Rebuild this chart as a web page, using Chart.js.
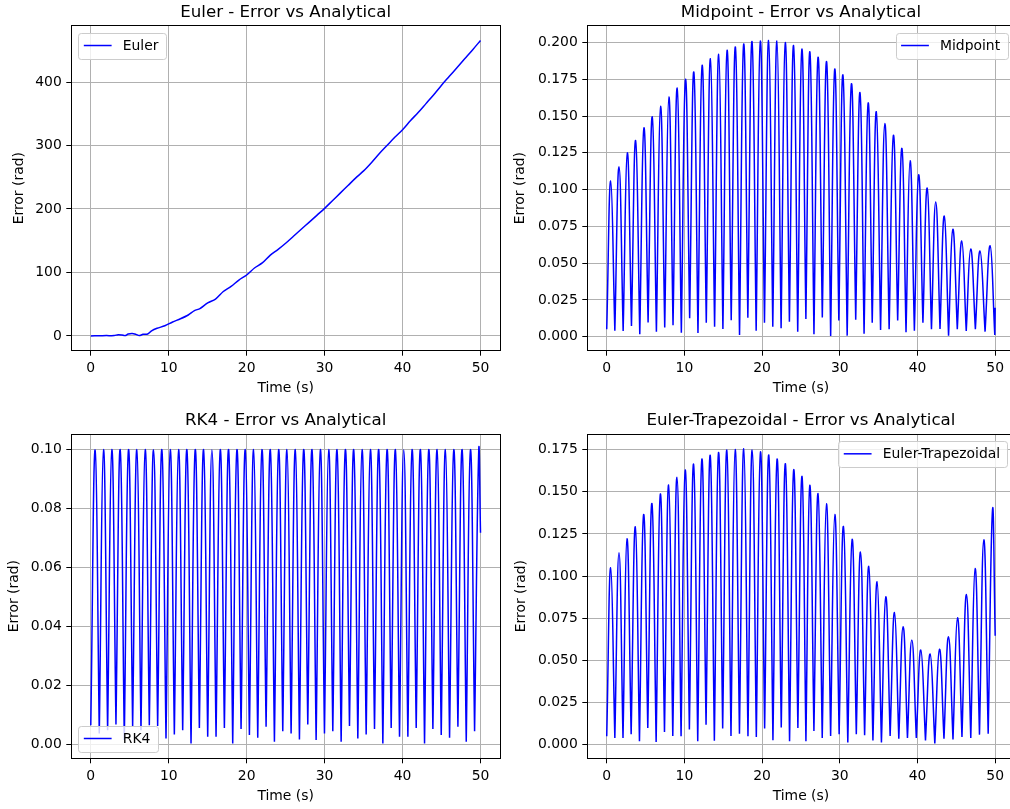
<!DOCTYPE html>
<html>
<head>
<meta charset="utf-8">
<title>Error vs Analytical</title>
<script src="https://cdn.jsdelivr.net/npm/chart.js@4.4.1/dist/chart.umd.min.js"></script>
<style>
  html, body { margin: 0; padding: 0; background: #fff; overflow: hidden; }
  #fig { position: relative; width: 1010px; height: 809px; overflow: hidden; background: #fff; }
  #fig canvas { position: absolute; }
</style>
</head>
<body>
<div id="fig"></div>
<script>
// tick labels
const timeTicks = [0, 10, 20, 30, 40, 50];
const eulerTicks = [0, 100, 200, 300, 400];
const midpointTicks = [0, 0.025, 0.05, 0.075, 0.1, 0.125, 0.15, 0.175, 0.2];
const rk4Ticks = [0, 0.02, 0.04, 0.06, 0.08, 0.1];
const trapTicks = [0, 0.025, 0.05, 0.075, 0.1, 0.125, 0.15, 0.175];

// Euler: smooth growing error
const eulerTime = [0, 1, 2, 3, 3.5, 4, 4.4, 4.8, 5.3, 5.8, 6.2, 6.7, 7.3, 7.8, 8.5, 9.5, 10.5, 11.5, 12.5, 13.3,
  14, 15, 16, 17, 18, 19, 20, 21, 22, 23, 24, 25, 26, 27, 28, 29, 30, 31, 32, 33,
  34, 35, 36, 37, 38, 39, 40, 41, 42, 43, 44, 45, 46, 47, 48, 49, 50];
const eulerError = [0, 0.3, 0.5, 0.5, 2, 1.5, 0.5, 3, 4, 2.5, 0.5, 2.5, 3, 8, 12, 16, 22, 27, 33, 40,
  43, 52, 58, 70, 78, 88, 96, 107, 115, 127, 136, 146, 157, 168, 179, 190, 201, 213, 225, 237,
  249, 260, 273, 287, 300, 313, 325, 339, 352, 366, 380, 395, 409, 423, 437, 451, 465.5];

// Midpoint: peaks and troughs of the oscillating error
const midpointPeakTime = [0.51, 1.58, 2.65, 3.72, 4.79, 5.86, 6.93, 8.0, 9.07, 10.14, 11.21, 12.28, 13.35, 14.42, 15.49,
  16.56, 17.63, 18.7, 19.77, 20.84, 21.91, 22.98, 24.05, 25.12, 26.15, 27.2, 28.3, 29.35, 30.4, 31.5,
  32.6, 33.65, 34.7, 35.8, 36.9, 38.0, 39.05, 40.15, 41.25, 42.35, 43.45, 44.55, 45.7, 46.85, 48.05, 49.35];
const midpointPeak = [0.1058, 0.1155, 0.125, 0.1334, 0.142, 0.1495, 0.1566, 0.163, 0.169, 0.175,
  0.180, 0.1846, 0.189, 0.192, 0.1948, 0.197, 0.199, 0.2007, 0.201, 0.2014,
  0.201, 0.200, 0.198, 0.1955, 0.1937, 0.190, 0.187, 0.182, 0.178, 0.172,
  0.166, 0.159, 0.153, 0.145, 0.137, 0.128, 0.1196, 0.110, 0.101, 0.0915,
  0.082, 0.073, 0.065, 0.0596, 0.0582, 0.0618];
const midpointTroughTime = [0, 1.045, 2.115, 3.185, 4.255, 5.325, 6.395, 7.465, 8.535, 9.605, 10.675, 11.745,
  12.815, 13.885, 14.955, 16.025, 17.095, 18.165, 19.235, 20.305, 21.375, 22.445, 23.515, 24.585,
  25.635, 26.675, 27.75, 28.825, 29.875, 30.95, 32.05, 33.125, 34.175, 35.25, 36.35, 37.45,
  38.525, 39.6, 40.7, 41.8, 42.9, 44.0, 45.125, 46.275, 47.45, 48.7, 49.95, 50];
const midpointTrough = [0.005, 0.0041, 0.0039, 0.0072, 0.0016, 0.0097, 0.0034, 0.0063, 0.0077, 0.0027, 0.0125, 0.0025,
  0.0095, 0.0068, 0.0052, 0.0111, 0.0011, 0.0129, 0.0041, 0.0095, 0.0068, 0.0057, 0.0102, 0.0034,
  0.012, 0.0016, 0.013, 0.0005, 0.011, 0.0007, 0.0115, 0.002, 0.0095, 0.0045, 0.005, 0.011,
  0.003, 0.004, 0.0095, 0.005, 0.0052, 0.0007, 0.005, 0.0038, 0.005, 0.0034, 0.0011, 0.0197];

// RK4
const rk4PeakTime = [0.56, 1.63, 2.70, 3.77, 4.84, 5.91, 6.98, 8.05, 9.12, 10.19, 11.26, 12.33, 13.40, 14.47, 15.54,
  16.61, 17.68, 18.75, 19.82, 20.89, 21.96, 23.03, 24.10, 25.17, 26.24, 27.31, 28.38, 29.45, 30.52, 31.59,
  32.66, 33.73, 34.80, 35.87, 36.94, 38.01, 39.08, 40.15, 41.22, 42.29, 43.36, 44.43, 45.50, 46.57, 47.64,
  48.71, 49.78];
const rk4Peak = [0.0999, 0.1, 0.1, 0.1, 0.1, 0.1, 0.1, 0.1, 0.1, 0.1, 0.1, 0.1, 0.1, 0.1, 0.1,
  0.1, 0.1, 0.1, 0.1, 0.1, 0.1, 0.1, 0.1, 0.1, 0.1, 0.1, 0.1, 0.1, 0.1, 0.1,
  0.1, 0.1, 0.1, 0.1, 0.1, 0.1, 0.1, 0.1, 0.1, 0.1, 0.1, 0.1, 0.1, 0.1, 0.1,
  0.1, 0.1003];
const rk4TroughTime = [0, 1.09, 2.16, 3.23, 4.30, 5.37, 6.44, 7.51, 8.58, 9.65, 10.72, 11.79, 12.86, 13.93, 15.00,
  16.07, 17.14, 18.21, 19.28, 20.35, 21.42, 22.49, 23.56, 24.63, 25.70, 26.77, 27.84, 28.91, 29.98, 31.05,
  32.12, 33.19, 34.26, 35.33, 36.40, 37.47, 38.54, 39.61, 40.68, 41.75, 42.82, 43.89, 44.96, 46.03, 47.10,
  48.17, 49.24, 50];
const rk4Trough = [0.0065, 0.0037, 0.0048, 0.0068, 0.0015, 0.0063, 0.0048, 0.0065, 0.0063, 0.002, 0.0034,
  0.0048, 0.0003, 0.0056, 0.0026, 0.0026, 0.0056, 0.0003, 0.0052, 0.0032, 0.0023,
  0.006, 0.0009, 0.0045, 0.0037, 0.0017, 0.0068, 0.0015, 0.0037, 0.0045, 0.0009,
  0.0063, 0.002, 0.0034, 0.0052, 0.0003, 0.0056, 0.0026, 0.0026, 0.0056, 0.0003,
  0.0052, 0.0032, 0.0023, 0.006, 0.0009, 0.0045, 0.0718];

// Euler-Trapezoidal
const trapPeakTime = [0.51, 1.58, 2.61, 3.68, 4.75, 5.82, 6.9, 7.97, 9.04, 10.1, 11.18, 12.25, 13.32, 14.39, 15.46,
  16.53, 17.64, 18.72, 19.79, 20.86, 21.93, 23.0, 24.07, 25.14, 26.14, 27.2, 28.28, 29.36, 30.47, 31.59,
  32.66, 33.73, 34.8, 35.92, 37.04, 38.15, 39.27, 40.43, 41.63, 42.83, 43.99, 45.15, 46.3, 47.42, 48.54, 49.66];
const trapPeak = [0.105, 0.1139, 0.1222, 0.1293, 0.1366, 0.1431, 0.1488, 0.1541, 0.1587, 0.163,
  0.1665, 0.1695, 0.1717, 0.1734, 0.1748, 0.1752, 0.1756, 0.1748, 0.1738, 0.1719,
  0.1695, 0.1667, 0.1632, 0.1592, 0.1539, 0.149, 0.1429, 0.1366, 0.1295, 0.1218,
  0.1143, 0.1058, 0.0966, 0.0877, 0.0784, 0.070, 0.0621, 0.0562, 0.0538, 0.0566,
  0.064, 0.0753, 0.0891, 0.1045, 0.1216, 0.1395];
const trapTroughTime = [0, 1.045, 2.095, 3.145, 4.215, 5.285, 6.36, 7.435, 8.505, 9.57, 10.64, 11.715, 12.785,
  13.855, 14.925, 15.995, 17.085, 18.18, 19.255, 20.325, 21.395, 22.465, 23.535, 24.605, 25.64, 26.67,
  27.74, 28.82, 29.915, 31.03, 32.125, 33.195, 34.265, 35.36, 36.48, 37.595, 38.71, 39.85, 41.03,
  42.23, 43.41, 44.57, 45.725, 46.86, 47.98, 49.1, 50];
const trapTrough = [0.0049, 0.0039, 0.0039, 0.0061, 0.002, 0.0099, 0.0016, 0.0075, 0.0051, 0.0049, 0.0089, 0.002,
  0.0118, 0.0022, 0.0095, 0.0051, 0.0065, 0.0049, 0.0045, 0.0095, 0.0026, 0.0102, 0.002, 0.0099,
  0.002, 0.0081, 0.0039, 0.0051, 0.0061, 0.0012, 0.0061, 0.0055, 0.0024, 0.0012, 0.0051, 0.0035,
  0.0039, 0.0039, 0.0024, 0.0006, 0.0035, 0.0031, 0.0045, 0.0039, 0.0059, 0.0065, 0.0646];

const FONT = 'DejaVu Sans';
const TICK_SIZE = 13.9;
Chart.defaults.font.family = FONT;
Chart.defaults.font.size = TICK_SIZE;
Chart.defaults.color = '#000';

function toPoints(times, values) {
  return times.map((t, i) => ({ x: t, y: values[i] }));
}
// troughs inside the series are listed twice, so the spline keeps
// a sharp cusp at the bottom and a round top at each peak
function mergePoints(peakT, peakV, troughT, troughV) {
  const last = troughT.length - 1;
  const troughs = [];
  troughT.forEach((t, i) => {
    troughs.push({ x: t, y: troughV[i] });
    if (i > 0 && i < last) troughs.push({ x: t, y: troughV[i] });
  });
  return toPoints(peakT, peakV).concat(troughs).sort((a, b) => a.x - b.x);
}

// spines + matplotlib style legend inside the axes
const axesDecor = {
  id: 'axesDecor',
  afterDatasetsDraw(chart, args, opts) {
    const { ctx, chartArea: a } = chart;
    ctx.save();
    ctx.strokeStyle = '#000';
    ctx.lineWidth = 1;
    const l = Math.round(a.left - 0.5) + 0.5, t = Math.round(a.top - 0.5) + 0.5;
    const r = Math.round(a.right - 0.5) + 0.5, b = Math.round(a.bottom - 0.5) + 0.5;
    ctx.strokeRect(l, t, r - l, b - t);

    const fs = TICK_SIZE;
    const ds = chart.data.datasets[0];
    ctx.font = fs + 'px "' + FONT + '"';
    const tw = ctx.measureText(ds.label).width;
    const pad = 0.4 * fs, handle = 2 * fs, gap = 0.8 * fs, axPad = 0.5 * fs;
    const w = pad + handle + gap + tw + pad + 2;
    const h = 2 * pad + 1.05 * fs;
    let x = a.left + axPad, y = a.top + axPad;
    if (opts.corner === 'upper right') x = a.right - axPad - w;
    if (opts.corner === 'lower left') y = a.bottom - axPad - h;
    ctx.beginPath();
    ctx.roundRect(Math.round(x) + 0.5, Math.round(y) + 0.5, Math.round(w), Math.round(h), 2.8);
    ctx.fillStyle = 'rgba(255,255,255,0.8)';
    ctx.fill();
    ctx.strokeStyle = '#cccccc';
    ctx.stroke();
    const cy = y + h / 2;
    ctx.beginPath();
    ctx.moveTo(x + pad, cy);
    ctx.lineTo(x + pad + handle, cy);
    ctx.strokeStyle = ds.borderColor;
    ctx.lineWidth = ds.borderWidth;
    ctx.stroke();
    ctx.fillStyle = '#000';
    ctx.textBaseline = 'middle';
    ctx.textAlign = 'left';
    ctx.fillText(ds.label, x + pad + handle + gap, cy + 0.5);
    ctx.restore();
  }
};

function makeChart(p) {
  const canvas = document.createElement('canvas');
  canvas.width = p.width;
  canvas.height = p.height;
  canvas.style.left = p.left + 'px';
  canvas.style.top = p.top + 'px';
  canvas.style.width = p.width + 'px';
  canvas.style.height = p.height + 'px';
  document.getElementById('fig').appendChild(canvas);

  const ys = p.points.map(d => d.y);
  const lo = Math.min(...ys), hi = Math.max(...ys), m = 0.05 * (hi - lo);
  const titleBox = p.area.t - p.top;
  const lh = TICK_SIZE * 1.2;

  return new Chart(canvas.getContext('2d'), {
    type: 'line',
    data: {
      datasets: [{
        label: p.label,
        data: p.points,
        borderColor: '#0000ff',
        borderWidth: 1.5,
        pointRadius: 0,
        fill: false,
        tension: p.tension
      }]
    },
    options: {
      responsive: false,
      animation: false,
      events: [],
      layout: { padding: { left: 0, top: 0, bottom: 0, right: p.width - (p.area.r - p.left) } },
      plugins: {
        legend: { display: false },
        tooltip: { enabled: false },
        title: {
          display: true,
          text: p.title,
          fullSize: false,
          color: '#000',
          font: { size: 16.67, weight: 'normal' },
          padding: { top: titleBox - 23.3, bottom: 3.3 }
        },
        axesDecor: { corner: p.corner }
      },
      scales: {
        x: {
          type: 'linear',
          min: -2.5,
          max: 52.5,
          afterBuildTicks: s => { s.ticks = timeTicks.map(v => ({ value: v })); },
          afterFit: s => { s.height = p.top + p.height - p.area.b; },
          border: { display: false },
          grid: { color: '#b0b0b0', lineWidth: 1, tickColor: '#000', tickLength: 5, tickWidth: 1 },
          ticks: { padding: 4.4, autoSkip: false, maxRotation: 0, callback: v => String(v) },
          title: { display: true, text: 'Time (s)', padding: { top: 0, bottom: p.xTitleOff - lh / 2 } }
        },
        y: {
          type: 'linear',
          min: lo - m,
          max: hi + m,
          afterBuildTicks: s => { s.ticks = p.yTicks.map(v => ({ value: v })); },
          afterFit: s => { s.width = p.area.l - p.left; },
          border: { display: false },
          grid: { color: '#b0b0b0', lineWidth: 1, tickColor: '#000', tickLength: 5, tickWidth: 1 },
          ticks: { padding: 4.5, autoSkip: false, callback: v => Number(v).toFixed(p.yDec) },
          title: { display: true, text: 'Error (rad)', padding: { top: p.yTitleOff - lh / 2, bottom: 0 } }
        }
      }
    },
    plugins: [axesDecor]
  });
}

const panels = [
  { label: 'Euler', title: 'Euler - Error vs Analytical', corner: 'upper left', tension: 0.3,
    points: toPoints(eulerTime, eulerError), yTicks: eulerTicks, yDec: 0,
    left: 0, top: 0, width: 505, height: 405, area: { l: 71.3, r: 500, t: 25.7, b: 350.7 },
    yTitleOff: 19.2, xTitleOff: 17 },
  { label: 'Midpoint', title: 'Midpoint - Error vs Analytical', corner: 'upper right', tension: 0.45,
    points: mergePoints(midpointPeakTime, midpointPeak, midpointTroughTime, midpointTrough), yTicks: midpointTicks, yDec: 3,
    left: 505, top: 0, width: 512, height: 405, area: { l: 587.3, r: 1014.6, t: 25.7, b: 350.7 },
    yTitleOff: 15.5, xTitleOff: 16.7 },
  { label: 'RK4', title: 'RK4 - Error vs Analytical', corner: 'lower left', tension: 0.45,
    points: mergePoints(rk4PeakTime, rk4Peak, rk4TroughTime, rk4Trough), yTicks: rk4Ticks, yDec: 2,
    left: 0, top: 405, width: 505, height: 404, area: { l: 71.3, r: 500, t: 434, b: 758.3 },
    yTitleOff: 14.5, xTitleOff: 13 },
  { label: 'Euler-Trapezoidal', title: 'Euler-Trapezoidal - Error vs Analytical', corner: 'upper right', tension: 0.45,
    points: mergePoints(trapPeakTime, trapPeak, trapTroughTime, trapTrough), yTicks: trapTicks, yDec: 3,
    left: 505, top: 405, width: 512, height: 404, area: { l: 587.3, r: 1014.6, t: 434, b: 758.3 },
    yTitleOff: 16, xTitleOff: 13 }
];

panels.forEach(makeChart);
</script>
</body>
</html>
